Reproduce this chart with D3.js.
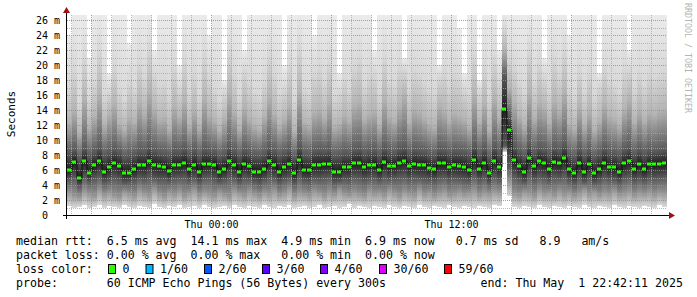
<!DOCTYPE html>
<html><head><meta charset="utf-8">
<script src="https://cdn.jsdelivr.net/npm/d3@7"></script>
<style>
html,body{margin:0;padding:0;background:#fff;}
svg{display:block;}
text{font-family:"DejaVu Sans Mono",monospace;}
</style></head><body>
<svg id="chart" width="697" height="297"></svg>
<script>
// ---- data (ms) : one value per 15-minute step ----
const median = [6.0,7.1,4.9,7.2,5.6,6.7,7.2,5.8,6.4,6.9,
 6.5,5.6,5.6,6.1,6.7,6.7,7.2,6.7,6.6,6.4,
 5.9,6.7,6.7,7.0,6.2,6.7,5.8,6.8,6.8,6.7,
 5.8,6.2,7.2,6.7,5.8,6.8,6.5,5.8,5.8,6.2,
 7.2,6.7,5.8,6.4,6.8,5.6,7.3,6.0,6.0,6.7,
 6.7,6.8,6.8,5.8,5.8,6.4,6.4,6.9,6.9,6.4,
 6.7,6.7,6.0,7.1,6.5,6.6,7.0,7.2,6.5,6.8,
 6.7,6.7,6.3,6.1,6.9,6.9,6.4,6.7,6.6,6.4,
 6.0,7.4,6.2,7.0,5.6,7.2,6.4,14.1,11.3,7.3,
 6.5,5.8,7.6,6.5,7.2,6.9,6.2,7.1,6.9,7.6,
 6.1,5.6,6.9,5.8,6.8,5.6,6.1,7.0,6.4,6.4,
 5.8,6.9,7.2,6.2,6.8,6.1,6.8,6.8,6.8,6.9];
const lo = [1.2,1.0,1.1,1.3,1.0,1.1,1.4,1.0,1.2,1.1,
 1.0,1.3,1.1,1.0,1.2,1.1,1.0,1.5,1.1,1.0,
 1.2,1.1,1.3,1.0,1.1,1.2,1.0,1.4,1.1,1.0,
 1.1,1.2,1.0,1.3,1.1,1.0,1.2,1.1,1.0,1.3,
 1.1,1.0,1.2,1.1,1.4,1.0,1.1,1.2,1.0,1.1,
 1.3,1.0,1.1,1.2,1.0,1.1,1.5,1.0,1.2,1.1,
 1.0,1.2,1.1,1.0,1.3,1.1,1.0,1.2,1.1,1.0,
 1.4,1.1,1.0,1.2,1.1,1.0,1.3,1.1,1.0,1.2,
 1.1,1.0,1.2,1.1,1.0,1.3,1.2,8.4,2.5,1.1,
 1.0,1.2,1.1,1.0,1.3,1.1,1.0,1.2,1.1,1.0,
 1.2,1.1,1.0,1.4,1.1,1.0,1.2,1.1,1.0,1.3,
 1.1,1.0,1.2,1.1,1.0,1.2,1.1,1.0,1.3,1.1];
const p10 = [3.0,2.6,2.4,3.2,2.8,2.5,3.4,2.7,3.0,2.6,
 2.4,3.1,2.8,2.5,3.3,2.9,2.6,3.5,2.8,2.4,
 3.0,2.7,3.2,2.5,2.9,3.4,2.6,3.0,2.8,2.5,
 3.1,2.7,2.4,3.3,2.9,2.6,3.2,2.8,2.5,3.0,
 2.7,3.3,2.6,2.9,3.5,2.5,3.0,2.8,2.6,3.2,
 2.9,2.5,3.1,2.7,3.4,2.8,2.6,3.0,2.7,2.5,
 3.2,2.8,3.0,2.6,3.3,2.9,2.5,3.1,2.8,2.6,
 3.4,2.7,3.0,2.5,2.9,3.2,2.6,2.8,3.1,2.7,
 2.9,3.3,2.6,3.0,2.8,3.2,3.0,8.8,4.5,2.8,
 2.6,3.1,2.9,2.5,3.3,2.8,3.0,2.6,3.2,2.7,
 3.0,2.5,2.9,3.4,2.7,3.1,2.6,3.0,2.8,3.3,
 2.7,2.9,3.2,2.6,3.0,2.8,3.1,2.7,3.0,2.9];
const p25 = [4.8,5.0,3.9,5.1,4.5,4.9,5.2,4.4,4.7,5.0,
 4.8,4.3,4.4,4.6,5.0,4.8,5.2,4.9,4.7,4.8,
 4.5,4.9,5.0,5.1,4.6,4.9,4.4,5.0,5.1,4.8,
 4.4,4.7,5.2,4.9,4.4,5.0,4.8,4.5,4.3,4.7,
 5.2,4.9,4.4,4.8,5.0,4.3,5.2,4.6,4.5,4.9,
 4.8,5.0,5.1,4.4,4.5,4.8,4.7,5.1,5.0,4.7,
 4.9,5.0,4.6,5.1,4.8,4.9,5.1,5.2,4.8,5.0,
 4.9,4.8,4.7,4.6,5.0,5.1,4.7,4.9,4.8,4.7,
 4.6,5.3,4.7,5.1,4.3,5.2,4.8,9.2,6.5,5.2,
 4.8,4.4,5.4,4.8,5.2,5.0,4.6,5.1,5.0,5.4,
 4.6,4.3,5.0,4.4,5.0,4.3,4.6,5.1,4.8,4.7,
 4.4,5.0,5.2,4.6,4.9,4.6,5.0,4.9,5.0,5.1];
const p75 = [8.2,8.6,7.4,8.8,7.8,8.3,8.9,7.9,8.2,8.6,
 8.3,7.6,7.8,8.0,8.4,8.3,8.9,8.5,8.2,8.1,
 7.9,8.4,8.3,8.7,8.0,8.5,7.8,8.6,8.4,8.3,
 7.7,8.0,8.9,8.4,7.8,8.5,8.2,7.9,7.8,8.1,
 8.8,8.4,7.9,8.2,8.6,7.6,9.0,8.0,7.9,8.4,
 8.5,8.4,8.6,7.8,7.9,8.2,8.1,8.6,8.7,8.1,
 8.4,8.5,7.9,8.8,8.3,8.2,8.7,8.9,8.1,8.6,
 8.4,8.3,8.0,7.9,8.6,8.5,8.1,8.4,8.3,8.2,
 7.9,9.1,8.0,8.7,7.6,8.9,8.2,18.5,13.0,9.0,
 8.3,7.8,9.2,8.2,8.8,8.6,8.0,8.8,8.5,9.2,
 7.9,7.6,8.6,7.8,8.4,7.6,8.0,8.7,8.2,8.1,
 7.8,8.6,8.9,8.0,8.5,8.0,8.5,8.4,8.5,8.6];
const p90 = [12.5,14.0,11.0,15.5,11.8,13.2,16.0,12.0,13.5,14.8,
 12.2,11.5,13.0,12.4,15.0,13.6,16.5,14.2,12.8,13.0,
 11.6,14.5,13.2,15.2,12.0,14.0,11.8,15.6,13.4,12.6,
 11.4,12.8,16.2,13.8,11.6,14.4,12.9,12.0,11.5,13.2,
 15.8,13.6,11.9,12.8,14.6,11.2,16.4,12.4,12.0,13.8,
 14.2,13.0,15.0,11.8,12.2,13.4,12.6,14.8,15.2,12.8,
 13.6,14.0,12.0,15.4,13.2,12.6,14.6,16.0,12.4,14.2,
 13.8,13.0,12.2,11.8,14.6,14.0,12.6,13.6,13.2,12.8,
 11.8,16.0,12.4,14.8,11.4,15.6,13.0,22.0,17.0,15.0,
 13.2,12.0,16.2,13.0,15.0,14.4,12.4,15.2,14.0,16.4,
 12.2,11.6,14.4,12.0,13.8,11.4,12.6,14.8,13.2,12.8,
 12.0,14.2,15.4,12.4,14.0,12.6,13.8,13.4,14.0,14.2];
const p95 = [17.0,19.5,15.0,21.0,15.5,18.0,22.0,16.0,16.5,20.0,
 17.0,15.5,18.0,17.0,20.5,18.5,22.5,19.0,17.5,18.0,
 16.0,20.0,17.0,21.0,16.5,19.0,16.0,21.5,18.5,17.0,
 15.5,16.5,22.0,19.0,16.0,19.5,18.0,16.5,16.0,18.0,
 21.5,19.0,16.5,17.0,20.0,15.5,22.5,17.0,16.5,19.0,
 20.0,18.0,20.5,16.0,16.5,18.5,17.0,20.0,21.0,17.5,
 19.0,19.0,16.5,21.0,18.0,17.5,20.0,19.5,17.0,19.5,
 19.0,18.0,17.0,16.5,18.5,19.5,17.5,19.0,18.5,17.0,
 16.5,21.5,16.5,20.0,16.0,21.0,18.0,25.0,21.0,20.0,
 18.0,16.5,22.0,18.0,20.5,18.5,17.0,21.0,19.0,22.0,
 17.0,16.0,19.5,16.5,19.0,16.0,17.5,20.0,18.0,17.5,
 16.5,19.5,19.5,17.0,19.0,17.5,19.0,18.5,19.0,19.5];
const hi = [24,27,27,27,21,27,27,27,19,27,
 27,27,23,27,27,27,27,22,27,27,
 27,27,20,27,27,27,27,27,24,27,
 27,18,27,27,27,22,27,27,27,27,
 27,27,27,20,27,27,27,27,27,24,
 27,27,27,27,19,27,27,27,27,27,
 27,22,27,27,27,27,27,21,27,27,
 27,27,27,27,20,27,27,27,25,19,
 27,27,18,27,27,27,22,27,27,27,
 27,27,27,27,27,21,27,27,27,27,
 24,27,27,27,27,27,19,27,27,27,
 27,27,22,27,27,27,27,27,27,27];
const yTickValues = [0,2,4,6,8,10,12,14,16,18,20,22,24,26];
const xTickTimes = [Date.UTC(2025,4,1,0,0), Date.UTC(2025,4,1,12,0)];
const lossLabels = ["0","1/60","2/60","3/60","4/60","30/60","59/60"];
const lossColors = ["#26ff00","#00b8ff","#0059ff","#5e00ff","#7e00ff","#dd00ff","#ff0000"];
const legendLines = [
  "median rtt:  6.5 ms avg  14.1 ms max  4.9 ms min  6.9 ms now   0.7 ms sd   8.9   am/s",
  "packet loss: 0.00 % avg  0.00 % max   0.00 % min  0.00 % now",
  "loss color:",
  "probe:       60 ICMP Echo Pings (56 Bytes) every 300s"
];
const endLabel = "end: Thu May  1 22:42:11 2025";

// ---- layout ----
const svg = d3.select("#chart");
const L = 67, R = 667, T = 15, B = 215;
const t0 = Date.UTC(2025,3,30,16,48), t1 = Date.UTC(2025,4,1,22,48);
const stepMs = 15*60*1000;
const x = d3.scaleUtc().domain([t0, t1]).range([L, R]);
const y = d3.scaleLinear().domain([0, 26.6667]).range([B, T]);
const tAt = i => new Date(t0 + i * stepMs);

svg.append("rect").attr("width",697).attr("height",297).attr("fill","#fff");
const defs = svg.append("defs");
defs.append("clipPath").attr("id","pc").append("rect").attr("x",L).attr("y",T).attr("width",R-L).attr("height",B-T);
const g = svg.append("g").attr("clip-path","url(#pc)");

// ---- smoke: one column per step, shaded by the ping distribution ----
const shade = [
  [hi, "#ececec"], [p95, "#d8d8d8"], [p90, "#b4b4b4"], [p75, "#585858"],
  [median, "#1e1e1e"], [p25, "#585858"], [p10, "#959595"], [lo, "#d8d8d8"]
];
median.forEach((m, i) => {
  const yTop = y(hi[i]), yBot = y(lo[i]);
  const gr = defs.append("linearGradient").attr("id","sg"+i)
    .attr("gradientUnits","userSpaceOnUse")
    .attr("x1",0).attr("x2",0).attr("y1",yTop).attr("y2",yBot);
  shade.forEach(([arr, col]) => {
    gr.append("stop").attr("offset", (y(arr[i]) - yTop) / (yBot - yTop)).attr("stop-color", col);
  });
  g.append("rect")
    .attr("x", x(tAt(i))).attr("width", x(tAt(i+1)) - x(tAt(i)))
    .attr("y", yTop).attr("height", yBot - yTop)
    .attr("fill", `url(#sg${i})`).attr("shape-rendering","crispEdges");
});

// ---- grid ----
const grid = svg.append("g");
for (let ms = 1; ms <= 26; ms++) {
  const yy = Math.round(y(ms)) + 0.5;
  grid.append("line").attr("x1",L).attr("x2",R).attr("y1",yy).attr("y2",yy)
    .attr("stroke", ms % 2 ? "#a8a8a8" : "#e07070")
    .attr("stroke-opacity", ms % 2 ? 0.8 : 0.85)
    .attr("stroke-dasharray","1,1");
}
d3.utcHour.range(new Date(t0), new Date(t1)).forEach(h => {
  const xx = Math.round(x(h)) + 0.5;
  const major = h.getUTCHours() % 6 === 0;
  grid.append("line").attr("x1",xx).attr("x2",xx).attr("y1",T).attr("y2",B)
    .attr("stroke", major ? "#e07070" : "#a8a8a8")
    .attr("stroke-opacity", major ? 0.85 : 0.8)
    .attr("stroke-dasharray","1,1");
});

// ---- median line ----
const idx = d3.range(median.length + 1);
const mv = i => median[Math.min(i, median.length - 1)];
g.append("path").datum(idx)
  .attr("d", d3.line().curve(d3.curveStepAfter).x(i => x(tAt(i))).y(i => y(mv(i))))
  .attr("fill","none").attr("stroke","#111").attr("stroke-width",1);
g.selectAll("rect.med").data(median).enter().append("rect")
  .attr("x",(d,i) => x(tAt(i))).attr("width",(d,i) => x(tAt(i+1)) - x(tAt(i)) - 1)
  .attr("y", d => Math.round(y(d)) - 1.5).attr("height",3)
  .attr("fill", lossColors[0]);

// ---- axes ----
svg.append("line").attr("x1",63).attr("x2",670).attr("y1",B+0.5).attr("y2",B+0.5).attr("stroke","#000");
svg.append("line").attr("x1",66.5).attr("x2",66.5).attr("y1",10).attr("y2",219).attr("stroke","#000");
svg.append("path").attr("d","M66.5,7 L63,13 L70,13 Z").attr("fill","#a01010");
svg.append("path").attr("d","M675,215.5 L669,212 L669,219 Z").attr("fill","#a01010");

const ya = svg.append("g").attr("transform","translate(60,0)")
  .call(d3.axisLeft(y).tickValues(yTickValues).tickSize(0).tickPadding(0)
    .tickFormat(d => d === 0 ? "0" : d + " m"));
ya.select(".domain").remove();
ya.selectAll("text").attr("font-family","DejaVu Sans Mono").attr("font-size","10px")
  .attr("fill","#000").attr("dy","0.36em")
  .attr("dx", d => d === 0 ? -12.04 : 0);

const xa = svg.append("g").attr("transform",`translate(0,${B})`)
  .call(d3.axisBottom(x).tickValues(xTickTimes.map(t => new Date(t))).tickSize(0).tickPadding(6)
    .tickFormat(d3.utcFormat("%a %H:%M")));
xa.select(".domain").remove();
xa.selectAll("text").attr("font-family","DejaVu Sans Mono").attr("font-size","10px").attr("fill","#000");

svg.append("text").attr("transform","translate(15,114) rotate(-90)")
  .attr("text-anchor","middle").attr("font-family","DejaVu Sans").attr("font-size","11px")
  .attr("fill","#000").text("Seconds");

svg.append("text").attr("transform","translate(685,3) rotate(90)")
  .attr("font-family","DejaVu Sans Mono").attr("font-size","8.3px").attr("fill","#b4b4b4")
  .text("RRDTOOL / TOBI OETIKER");

// ---- legend ----
const baseY = [245, 259, 273, 287];
legendLines.forEach((s, i) => {
  svg.append("text").attr("x",16).attr("y",baseY[i])
    .attr("font-size","11.6px").attr("fill","#000")
    .attr("xml:space","preserve").style("white-space","pre").text(s);
});
svg.append("text").attr("x",480.5).attr("y",baseY[3])
  .attr("font-size","11.6px").attr("fill","#000")
  .attr("xml:space","preserve").style("white-space","pre").text(endLabel);
const swX = [108.5, 146, 204.5, 262.5, 320.5, 379.5, 444.5];
lossLabels.forEach((lab, i) => {
  svg.append("rect").attr("x",swX[i]).attr("y",264.5).attr("width",7).attr("height",9)
    .attr("fill",lossColors[i]).attr("stroke","#000").attr("stroke-width",1);
  svg.append("text").attr("x",swX[i] + 14).attr("y",baseY[2])
    .attr("font-size","11.6px").attr("fill","#000").text(lab);
});
</script>
</body></html>
